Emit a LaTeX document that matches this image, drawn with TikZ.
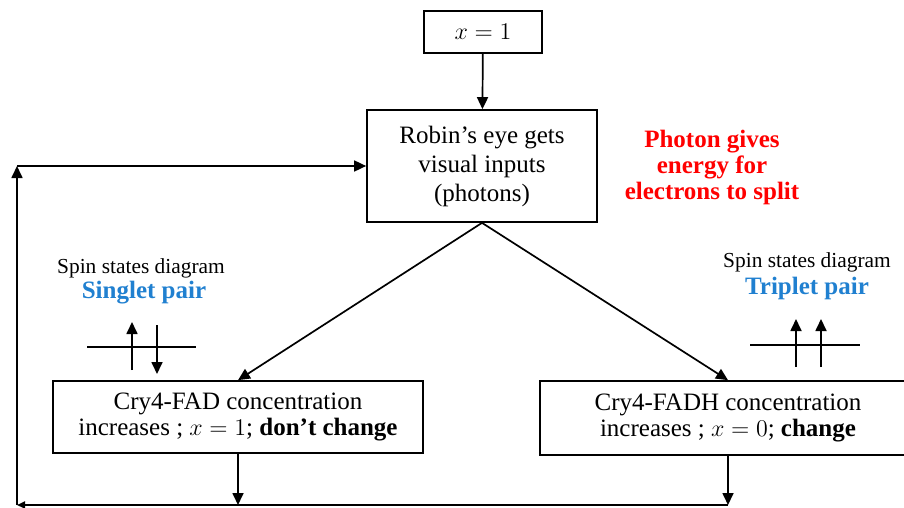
\documentclass[tikz,border=0pt]{standalone}
\usepackage{fontspec}
\setmainfont{Liberation Serif}
\usepackage{tikz}
\usetikzlibrary{arrows.meta, positioning}
\definecolor{spinblue}{HTML}{2080D0}
\definecolor{notered}{HTML}{FF0000}

\begin{document}
\begin{tikzpicture}[
    x=0.5pt, y=-0.5pt,
    box/.style={rectangle, draw, line width=0.85pt, align=center, inner sep=1pt, font=\fontsize{12.5}{13}\selectfont},
    note/.style={align=center, inner sep=0pt, text=notered, font=\fontsize{12.5}{13}\selectfont\bfseries},
    spinlabel/.style={align=center, inner sep=0pt, font=\fontsize{10.7}{12}\selectfont},
    pairlabel/.style={align=center, inner sep=0pt, text=spinblue, font=\fontsize{12.5}{13}\selectfont\bfseries},
    arrow/.style={-{Triangle[length=6pt, width=5.5pt]}, line width=0.85pt},
    spin/.style={-{Triangle[length=6pt, width=5.5pt]}, line width=0.85pt},
]
\useasboundingbox (0,0) rectangle (904,508);
\clip (0,0) rectangle (904,508);

\node[box, minimum width=59pt, minimum height=21pt] (init) at (483,32) {$x=1$};
\node[box, minimum width=115pt, minimum height=56pt, font=\fontsize{12.5}{14.5}\selectfont] (eye) at (482,166) {Robin's eye gets\\visual inputs\\(photons)};
\node[note] (energy) at (712,167) {Photon gives\\energy for\\electrons to split};
\node[box, minimum width=185pt, minimum height=36pt] (fad) at (238,417) {Cry4-FAD concentration\\increases ; $x=1$; \textbf{don't change}};
\node[box, minimum width=188pt, minimum height=37pt] (fadh) at (728,418) {Cry4-FADH concentration\\increases ; $x=0$; \textbf{change}};

\node[spinlabel] (lspin) at (141,268) {Spin states diagram};
\node[pairlabel] (singlet) at (144,293) {Singlet pair};
\node[spinlabel] (rspin) at (807,262) {Spin states diagram};
\node[pairlabel] (triplet) at (807,288) {Triplet pair};

\draw[line width=0.85pt] (87,347) -- (196,347);
\draw[spin] (132,370) -- (132,322);
\draw[spin] (157,325) -- (157,374);
\draw[line width=0.85pt] (750,345) -- (860,345);
\draw[spin] (796,367) -- (796,319);
\draw[spin] (821,367) -- (821,319);

\coordinate (cbl) at (17,505);
\coordinate (ctl) at (17,166);

\draw[arrow] (init) -- (eye);
\draw[arrow] (eye.south) -- (fad.north);
\draw[arrow] (eye.south) -- (fadh.north);
\draw[arrow] (fad.south) -- (fad.south |- cbl);
\draw[arrow] (fadh.south) -- (fadh.south |- cbl);
\draw[-{Triangle[length=4pt, width=3.5pt]}, line width=0.85pt] (fadh.south |- cbl) -- (cbl);
\draw[arrow] (cbl) -- (ctl);
\draw[arrow] (ctl) -- (eye.west);

\end{tikzpicture}
\end{document}
